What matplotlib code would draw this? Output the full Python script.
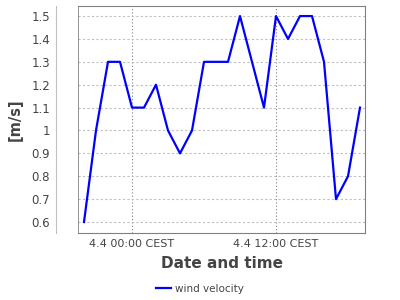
import matplotlib
matplotlib.use('Agg')
import matplotlib.pyplot as plt
import pandas as pd
from matplotlib.lines import Line2D

# hourly wind readings, starting 3.4 20:00
times = pd.date_range('2011-04-03 20:00', periods=24, freq='h')
wind = [0.6, 1.0, 1.3, 1.3, 1.1, 1.1, 1.2, 1.0, 0.9, 1.0, 1.3, 1.3,
        1.3, 1.5, 1.3, 1.1, 1.5, 1.4, 1.5, 1.5, 1.3, 0.7, 0.8, 1.1]
yticks = [0.6, 0.7, 0.8, 0.9, 1.0, 1.1, 1.2, 1.3, 1.4, 1.5]
ytick_labels = ['0.6', '0.7', '0.8', '0.9', '1', '1.1', '1.2', '1.3', '1.4', '1.5']
xticks = [pd.Timestamp('2011-04-04 00:00'), pd.Timestamp('2011-04-04 12:00')]
xtick_labels = ['4.4 00:00 CEST', '4.4 12:00 CEST']

txt = '#444444'
fig = plt.figure(figsize=(4, 3), dpi=100)
ax = fig.add_axes([0.195, 0.2233, 0.7175, 0.7567])
ax.plot(times, wind, color='#0000ff', lw=1.6)

ax.set_xlim(pd.Timestamp('2011-04-03 19:30'), pd.Timestamp('2011-04-04 19:25'))
ax.set_ylim(0.552, 1.544)
ax.set_yticks(yticks)
ax.set_yticklabels(ytick_labels)
ax.set_xticks(xticks)
ax.set_xticklabels(xtick_labels)

ax.grid(axis='y', color='#c0c0c0', ls=(0, (2, 2)), lw=0.8)
ax.grid(axis='x', color='#808080', ls=(0, (1, 2)), lw=0.8)

for s in ['top', 'right', 'bottom']:
    ax.spines[s].set_color('#808080')
ax.spines['left'].set_position(('outward', 16))
ax.spines['left'].set_color('#c0c0c0')
# the plot frame's left edge
ax.axvline(ax.get_xlim()[0], color='#808080', lw=1.2)

ax.tick_params(axis='y', colors='#c0c0c0', labelcolor=txt, labelsize=8.5, length=0, pad=4)
ax.tick_params(axis='x', colors='#c0c0c0', labelcolor=txt, labelsize=8, length=0, pad=4)

ax.set_ylabel('[m/s]', fontsize=10.5, fontweight='bold', color=txt, labelpad=6)
ax.set_xlabel('Date and time', fontsize=11, fontweight='bold', color=txt, labelpad=5)

handle = Line2D([], [], color='#0000ff', lw=1.6)
fig.legend([handle], ['wind velocity'], loc='center', bbox_to_anchor=(0.5, 0.037),
           frameon=False, fontsize=7.5, labelcolor=txt, handlelength=1.5, handletextpad=0.4)

fig.savefig('out.png', dpi=100)
